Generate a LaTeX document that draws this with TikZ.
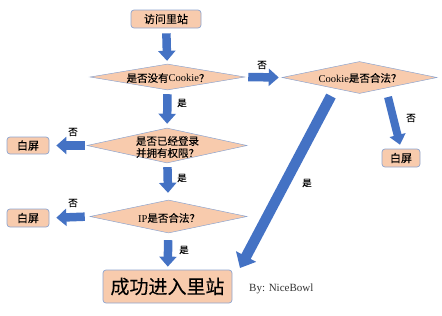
\documentclass[tikz,border=0pt]{standalone}
\usepackage{fontspec}
\setmainfont{Liberation Serif}
\newfontfamily\cjk[FakeBold=0.15]{Noto Sans CJK SC}
\usetikzlibrary{shapes.geometric,arrows.meta}
\definecolor{peach}{HTML}{F8CBAD}
\definecolor{abl}{HTML}{4472C4}
\definecolor{edgec}{HTML}{8EA5CF}
\newcommand\zh[1]{{\cjk #1}}
\begin{document}
\begin{tikzpicture}[x=1pt,y=-1pt,
  boxst/.style={draw=edgec, fill=peach, rounded corners=3pt, line width=0.7pt, inner sep=0pt, font=\cjk\fontsize{11}{13}\selectfont},
  dia/.style={diamond, draw=edgec, fill=peach, line width=0.5pt, inner sep=0pt},
  blk/.style={draw=abl, line width=8.5pt, -{Triangle[width=17pt,length=10pt]}},
  lab/.style={font=\cjk\fontsize{9.5}{11}\selectfont, inner sep=0pt},
  dtext/.style={font=\fontsize{10.5}{12}\selectfont, align=center, inner sep=0pt}]
\useasboundingbox (0,0) rectangle (442,316);
% boxes
\node[boxst, minimum width=70pt, minimum height=18pt] (b0) at (166,19) {访问里站};
\node[boxst, minimum width=42pt, minimum height=17pt] (w1) at (28,145.5) {白屏};
\node[boxst, minimum width=42pt, minimum height=18pt] (w2) at (28,218) {白屏};
\node[boxst, minimum width=38pt, minimum height=18pt] (w3) at (401,158) {白屏};
\node[boxst, minimum width=129pt, minimum height=33pt, font=\cjk\fontsize{19}{22}\selectfont] (fin) at (167.5,286.5) {成功进入里站};
% diamonds
\node[dia, minimum width=155pt, minimum height=26pt] (d1) at (167.5,77) {};
\node[dtext] (t1) at (168,78) {\zh{是否没有}Cookie\zh{？}};
\node[dia, minimum width=155pt, minimum height=32pt] (d2) at (359.5,77.5) {};
\node[dtext] (t2) at (360,78) {Cookie\zh{是否合法？}};
\node[dia, minimum width=160pt, minimum height=35pt] (d3) at (167,145.5) {};
\node[dtext, font=\cjk\fontsize{10.5}{12}\selectfont] (t3) at (167.5,147) {是否已经登录\\并拥有权限？};
\node[dia, minimum width=157pt, minimum height=33pt] (d4) at (168.5,216.5) {};
\node[dtext] (t4) at (169,218) {IP\zh{是否合法？}};
% arrows
\draw[blk, shorten <=5pt, shorten >=3pt] (b0) -- (d1);
\draw[blk, shorten <=4pt, shorten >=4pt] (d1) -- (d3);
\draw[blk, shorten <=4pt, shorten >=7pt] (d3) -- (d4);
\draw[blk, shorten <=7pt, shorten >=3pt] (d4) -- (fin);
\draw[blk, shorten <=3pt, shorten >=3pt] (d1.east) -- (d2.west);
\draw[blk, shorten <=2pt, shorten >=7pt] (d3.west) -- (w1.east);
\draw[blk, shorten <=5pt, shorten >=7pt] (d4.west) -- (w2.east);
\coordinate (c1) at (331,96);
\coordinate (c2) at (240,268);
\draw[blk, line width=10.5pt, -{Triangle[width=22pt,length=13pt]}] (c1) -- (c2);
\coordinate (c3) at (388,97);
\draw[blk, line width=8pt, -{Triangle[width=16pt,length=10pt]}, shorten >=4pt] (c3) -- (w3.north);
% labels
\node[lab] (l1) at (262,65) {否};
\node[lab] (l2) at (182,103) {是};
\node[lab] (l3) at (73,132) {否};
\node[lab] (l4) at (182,178) {是};
\node[lab] (l5) at (73,203) {否};
\node[lab] (l6) at (184,250) {是};
\node[lab] (l7) at (411,118) {否};
\node[lab] (l8) at (307,183) {是};
\node[font=\fontsize{11}{13}\selectfont, text=black!80, anchor=west, inner sep=0pt] (by) at (249,289) {By: NiceBowl};
\end{tikzpicture}
\end{document}
